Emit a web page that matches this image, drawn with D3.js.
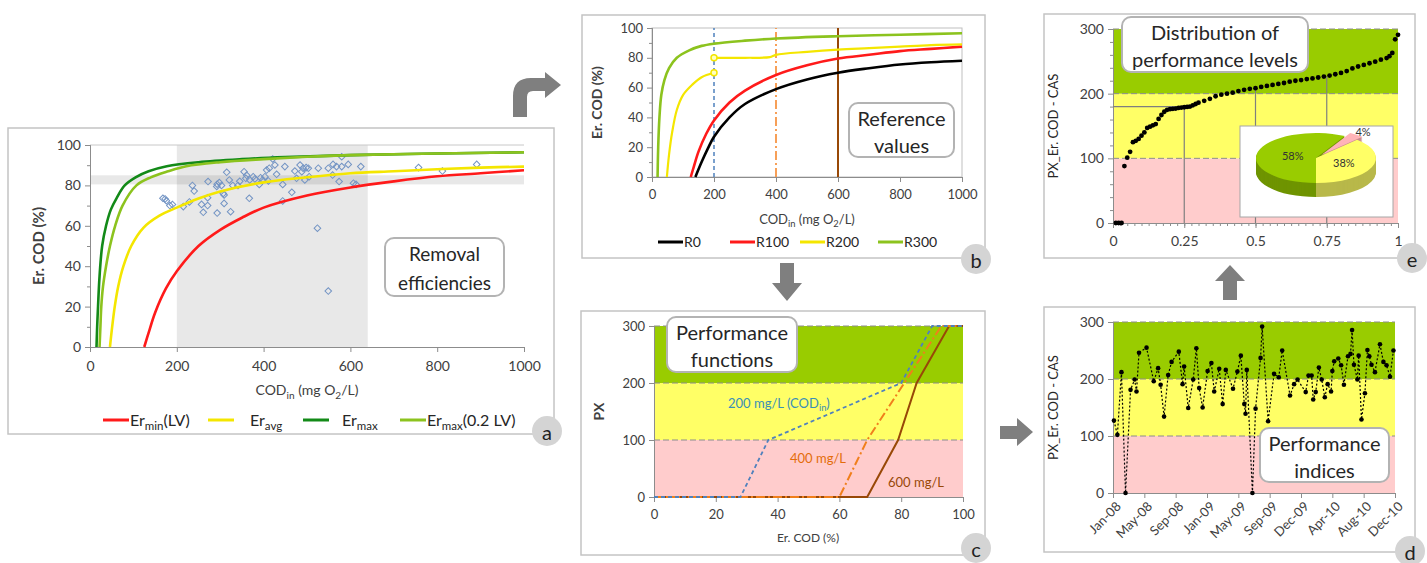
<!DOCTYPE html>
<html>
<head>
<meta charset="utf-8">
<script src="https://cdn.jsdelivr.net/npm/d3@7"></script>
<style>
  body { margin: 0; background: #fff; }
  text { font-family: Lato, "Open Sans", sans-serif; }
</style>
</head>
<body>
<svg id="fig" width="1427" height="563"></svg>
<script>
// ---------- panel a : removal efficiencies ----------
const erMinCod = [125, 135, 150, 175, 200, 250, 300, 350, 400, 500, 600, 700, 800, 900, 1000];
const erMinVal = [0, 7, 17, 29, 37.5, 50, 58, 64, 69, 75, 79, 82, 84.5, 86, 87.5];
const erAvgCod = [46, 50, 57, 65, 77, 95, 123, 160, 200, 250, 300, 400, 500, 600, 700, 800, 900, 1000];
const erAvgVal = [0, 8, 20, 30, 40, 50, 59, 65, 69, 73.5, 77, 81.5, 84, 86, 87, 88, 88.8, 89.3];
const erMaxCod = [15, 16.5, 18.5, 22, 28, 37, 48, 62, 80, 105, 135, 177, 250, 350, 450, 600, 800, 1000];
const erMaxVal = [0, 10, 20, 35, 50, 60, 68, 74, 80, 84, 87, 89.5, 91.5, 93, 94, 95, 95.8, 96.4];
const erMax02Cod = [22, 24, 26, 30, 37, 46, 58, 75, 107, 140, 180, 222, 300, 400, 500, 600, 800, 1000];
const erMax02Val = [0, 10, 20, 30, 40, 50, 60, 70, 80, 84, 87, 89.5, 91.5, 93, 94.2, 95, 95.8, 96.4];
const scatCod = [168,173,176,184,190,215,229,236,240,257,261,271,271,272,292,293,293,298,303,307,
  309,309,315,321,324,329,341,345,355,359,361,367,368,376,380,390,393,398,403,407,
  411,413,421,426,430,444,444,449,465,472,476,484,488,491,495,498,503,505,524,526,
  549,549,559,560,568,574,580,580,595,607,613,624,757,812,891];
const scatEr = [73.6,73.3,72.4,70,70.5,69.5,71.8,80,77.2,70.6,66.7,73.9,70,81.9,79.5,80.6,66.3,81.4,80,76,
  75.3,71.1,86.5,82.7,67,80,80,82,86.8,83.5,85,73.6,82.7,84.3,83.2,80.5,83.8,82.7,84.3,87.6,
  82.2,88.5,93.1,90.1,85.5,80.5,72.3,89.3,76.6,87.1,83.5,90.1,86.8,88.5,82.7,88.8,88.5,84.3,58.8,88.5,
  27.7,88.5,85.1,90.4,89.3,81.9,94.2,89.3,90.4,81.1,80.5,89.3,88.8,87.1,90.4];
const shadeCod = [200, 640];   // grey range of influent COD
const shadeEr = [80.5, 85];    // grey range of efficiency

// ---------- panel b : reference values ----------
const r0Cod = [140, 160, 180, 200, 250, 300, 400, 500, 600, 700, 800, 900, 1000];
const r0Val = [0, 10, 19, 27, 40, 49, 59, 65.5, 70, 73, 75.5, 77, 78];
const r100Cod = [125, 135, 150, 175, 200, 250, 300, 400, 500, 600, 700, 800, 900, 1000];
const r100Val = [0, 7, 17, 29, 38, 50, 58, 68.5, 75, 79.5, 82, 84.5, 86, 87.5];
const r200aCod = [48, 55, 65, 80, 100, 130, 160, 200];
const r200aVal = [0, 15, 30, 45, 55, 62, 67, 70];
const r200bCod = [200, 300, 380, 400, 500, 600, 700, 800, 900, 1000];
const r200bVal = [80, 80, 80.5, 82, 84, 85.5, 86.5, 87.5, 88.5, 89];
const r300Cod = [18, 20, 24, 30, 40, 55, 80, 120, 160, 200, 300, 400, 600, 800, 1000];
const r300Val = [0, 20, 40, 55, 65, 73, 80, 85, 88, 89.5, 91.5, 93, 94.5, 95.5, 96.5];
const refCod = [200, 400, 600];

// ---------- panel c : performance functions ----------
const pf200Er = [0, 28, 37, 80, 90, 100];
const pf200Px = [0, 0, 100, 200, 300, 300];
const pf400Er = [0, 60, 69, 81, 93, 100];
const pf400Px = [0, 0, 100, 200, 300, 300];
const pf600Er = [0, 69, 79, 85, 95.5, 100];
const pf600Px = [0, 0, 100, 200, 300, 300];

// ---------- panel d : performance indices ----------
const dTickLabels = ["Jan-08", "May-08", "Sep-08", "Jan-09", "May-09", "Sep-09", "Dec-09", "Apr-10", "Aug-10", "Dec-10"];
const dT = [0.03,0.14,0.27,0.40,0.56,0.69,0.75,0.83,1.07,1.30,1.44,1.52,1.63,1.76,1.87,2.10,2.22,2.27,2.40,2.56,
  2.66,2.75,2.86,3.02,3.14,3.23,3.39,3.50,3.60,3.83,3.97,4.08,4.19,4.23,4.27,4.45,4.55,4.71,4.76,4.95,
  5.14,5.29,5.40,5.65,5.78,5.89,6.15,6.24,6.34,6.39,6.47,6.57,6.66,6.76,6.85,6.96,7.00,7.06,7.19,7.28,
  7.37,7.50,7.58,7.63,7.69,7.80,7.84,7.93,8.04,8.12,8.18,8.25,8.36,8.52,8.63,8.73,8.84,8.95];
const dPx = [127,102,212,0,181,199,178,246,255,196,219,190,134,207,230,248,191,222,149,199,
  254,184,150,214,228,178,218,156,216,183,213,241,156,139,216,0,148,237,292,126,
  209,203,250,171,191,199,177,206,206,164,177,220,199,168,191,178,214,231,236,224,
  190,240,244,286,225,199,241,129,175,251,240,225,212,261,230,224,204,250];

// ---------- panel e : distribution ----------
const eP = [0.01,0.02,0.03,0.04,0.05,0.06,0.07,0.08,0.09,0.10,0.11,0.12,0.13,0.14,0.15,0.16,0.17,0.18,0.19,0.20,
  0.21,0.22,0.23,0.24,0.25,0.26,0.27,0.28,0.29,0.30,0.32,0.34,0.36,0.38,0.40,0.42,0.44,0.46,0.48,0.50,
  0.52,0.54,0.56,0.58,0.60,0.62,0.64,0.66,0.68,0.70,0.72,0.74,0.76,0.78,0.80,0.82,0.84,0.86,0.88,0.90,
  0.92,0.94,0.96,0.97,0.98,0.99,1.0];
const eV = [0,0,0,88,101,110,125,127,130,135,140,147,149,151,153,161,167,172,175,176,
  176.5,177,178,178.5,179,179.5,180,182,184,186,189,192,196,198.5,200,201.5,204,206,207.5,208.5,
  210.5,212,213.5,215,216.5,218.5,220,221,222.5,223.5,225,226.5,228,230,232,235,239,242,244.5,247,
  249.5,252.5,255,258,263,284,291];
const quartP = [0.25, 0.5, 0.75];
const quartV = [180, 207, 227];
const pieLabels = ["58%", "4%", "38%"];
const pieVals = [58, 4, 38];

// ---------- shared styling ----------
const TXT = "#404040", AX = "#8c8c8c";
const GREEN = "#99cc00", YELLOW = "#ffff66", PINK = "#ffcccc";
const svg = d3.select("#fig");
const intFmt = d3.format("d");

function styleAxis(g, size) {
  g.select(".domain").attr("stroke", AX);
  g.selectAll(".tick line").attr("stroke", AX);
  g.selectAll(".tick text").attr("fill", TXT).style("font-size", size + "px");
}

function frame(x0, y0, x1, y1) {
  svg.append("rect").attr("x", x0).attr("y", y0).attr("width", x1 - x0).attr("height", y1 - y0)
    .attr("fill", "none").attr("stroke", "#c4c4c4").attr("stroke-width", 1.5);
}

function letter(cx, cy, s) {
  svg.append("circle").attr("cx", cx).attr("cy", cy).attr("r", 15).attr("fill", "#d4d4d4");
  svg.append("text").attr("x", cx).attr("y", cy + 1).attr("text-anchor", "middle")
    .attr("dominant-baseline", "central").style("font-size", "20px").attr("fill", "#222").text(s);
}

function note(x0, y0, x1, y1, lines, size) {
  svg.append("rect").attr("x", x0).attr("y", y0).attr("width", x1 - x0).attr("height", y1 - y0)
    .attr("rx", 9).attr("fill", "#fff").attr("stroke", "#b3b3b3").attr("stroke-width", 2);
  const h = (y1 - y0) / lines.length;
  lines.forEach((t, i) => {
    svg.append("text").attr("x", (x0 + x1) / 2).attr("y", y0 + h * (i + 0.5) + 1)
      .attr("text-anchor", "middle").attr("dominant-baseline", "central")
      .style("font-size", size + "px").attr("fill", "#262626").text(t);
  });
}

// text with subscripts: parts = [[text, isSub], ...]
function subText(x, y, parts, size, anchor, color) {
  const t = svg.append("text").attr("x", x).attr("y", y).attr("text-anchor", anchor || "start")
    .style("font-size", size + "px").attr("fill", color || TXT);
  let down = false;
  parts.forEach(([s, sub]) => {
    const sp = t.append("tspan").text(s);
    if (sub && !down) { sp.attr("dy", size * 0.25).style("font-size", (size * 0.72) + "px"); down = true; }
    else if (sub) { sp.style("font-size", (size * 0.72) + "px"); }
    else if (down) { sp.attr("dy", -size * 0.25); down = false; }
  });
  return t;
}
const codInParts = [["COD"], ["in", 1], [" (mg O"], ["2", 1], ["/L)"]];

function bands(x, y, x0, x1) {
  [[0, 100, PINK], [100, 200, YELLOW], [200, 300, GREEN]].forEach(([a, b, c]) => {
    svg.append("rect").attr("x", x(x0)).attr("y", y(b)).attr("width", x(x1) - x(x0))
      .attr("height", y(a) - y(b)).attr("fill", c);
  });
  [100, 200, 300].forEach(v => {
    svg.append("line").attr("x1", x(x0)).attr("x2", x(x1)).attr("y1", y(v)).attr("y2", y(v))
      .attr("stroke", "#8c8c8c").attr("stroke-dasharray", "6,3");
  });
}

function curve(x, y, xs, ys, color, w, dash) {
  const line = d3.line().x(i => x(xs[i])).y(i => y(ys[i])).curve(d3.curveCatmullRom.alpha(0.5));
  const p = svg.append("path").attr("d", line(d3.range(xs.length))).attr("fill", "none")
    .attr("stroke", color).attr("stroke-width", w).attr("stroke-linejoin", "round");
  if (dash) p.attr("stroke-dasharray", dash);
  return p;
}
function poly(x, y, xs, ys, color, w, dash) {
  const line = d3.line().x(i => x(xs[i])).y(i => y(ys[i]));
  const p = svg.append("path").attr("d", line(d3.range(xs.length))).attr("fill", "none")
    .attr("stroke", color).attr("stroke-width", w);
  if (dash) p.attr("stroke-dasharray", dash);
  return p;
}

// ================= panel a =================
frame(8, 128, 554, 434);
const xA = d3.scaleLinear().domain([0, 1000]).range([90, 524]);
const yA = d3.scaleLinear().domain([0, 100]).range([347, 145]);

svg.append("rect").attr("x", xA(shadeCod[0])).attr("y", yA(100)).attr("width", xA(shadeCod[1]) - xA(shadeCod[0]))
  .attr("height", yA(0) - yA(100)).attr("fill", "#000").attr("opacity", 0.09);
svg.append("rect").attr("x", xA(0)).attr("y", yA(shadeEr[1])).attr("width", xA(1000) - xA(0))
  .attr("height", yA(shadeEr[0]) - yA(shadeEr[1])).attr("fill", "#000").attr("opacity", 0.09);
svg.append("line").attr("x1", xA(0)).attr("x2", xA(1000)).attr("y1", yA(100)).attr("y2", yA(100))
  .attr("stroke", "#c8c8c8");

svg.append("g").attr("transform", `translate(${xA(0)},0)`)
  .call(d3.axisLeft(yA).tickValues(d3.range(10, 100, 20)).tickSize(3).tickFormat(""))
  .call(g => styleAxis(g, 14));
svg.append("g").attr("transform", `translate(${xA(0)},0)`)
  .call(d3.axisLeft(yA).tickValues(d3.range(0, 101, 20)).tickSize(5).tickPadding(4))
  .call(g => styleAxis(g, 14));
svg.append("g").attr("transform", `translate(0,${yA(0)})`)
  .call(d3.axisBottom(xA).tickValues(d3.range(0, 1001, 200)).tickSize(5).tickPadding(9).tickFormat(intFmt))
  .call(g => styleAxis(g, 14));

svg.append("g").selectAll("path").data(d3.range(scatCod.length)).join("path")
  .attr("d", d3.symbol(d3.symbolSquare, 22)())
  .attr("transform", i => `translate(${xA(scatCod[i])},${yA(scatEr[i])}) rotate(45)`)
  .attr("fill", "none").attr("stroke", "#7394c4").attr("stroke-width", 1);

curve(xA, yA, erMinCod, erMinVal, "#ff1a1a", 2.6);
curve(xA, yA, erAvgCod, erAvgVal, "#f4e600", 2.6);
curve(xA, yA, erMaxCod, erMaxVal, "#138a18", 2.6);
curve(xA, yA, erMax02Cod, erMax02Val, "#8cc31e", 2.6);

svg.append("text").attr("transform", `translate(44,${(yA(0) + yA(100)) / 2}) rotate(-90)`)
  .attr("text-anchor", "middle").style("font-size", "15px").style("font-weight", "bold")
  .attr("fill", TXT).text("Er. COD (%)");
subText(307, 395, codInParts, 14, "middle");

// legend a
[
  [103, 130, "#ff1a1a", [["Er"], ["min", 1], ["(LV)"]]],
  [208, 250, "#f4e600", [["Er"], ["avg", 1]]],
  [303, 342, "#138a18", [["Er"], ["max", 1]]],
  [400, 427, "#8cc31e", [["Er"], ["max", 1], ["(0.2 LV)"]]]
].forEach(([lx, tx, c, parts]) => {
  svg.append("line").attr("x1", lx).attr("x2", lx + 26).attr("y1", 420).attr("y2", 420)
    .attr("stroke", c).attr("stroke-width", 3);
  subText(tx, 426, parts, 16, "start", "#262626");
});
note(385, 238, 504, 296, ["Removal", "efficiencies"], 19);
letter(547, 431, "a");

// ================= panel b =================
frame(582, 15, 985, 258);
const xB = d3.scaleLinear().domain([0, 1000]).range([652, 962]);
const yB = d3.scaleLinear().domain([0, 100]).range([177, 28]);
svg.append("rect").attr("x", xB(0)).attr("y", yB(100)).attr("width", xB(1000) - xB(0))
  .attr("height", yB(0) - yB(100)).attr("fill", "none").attr("stroke", "#bfbfbf");
svg.append("g").attr("transform", `translate(${xB(0)},0)`)
  .call(d3.axisLeft(yB).tickValues(d3.range(10, 100, 20)).tickSize(3).tickFormat(""))
  .call(g => styleAxis(g, 13));
svg.append("g").attr("transform", `translate(${xB(0)},0)`)
  .call(d3.axisLeft(yB).tickValues(d3.range(0, 101, 20)).tickSize(5).tickPadding(4))
  .call(g => styleAxis(g, 13));
svg.append("g").attr("transform", `translate(0,${yB(0)})`)
  .call(d3.axisBottom(xB).tickValues(d3.range(0, 1001, 200)).tickSize(5).tickPadding(8).tickFormat(intFmt))
  .call(g => styleAxis(g, 13));

const refStyle = [["#4f81bd", 1.5, "4,3"], ["#f79646", 1.8, "9,3,2,3"], ["#984807", 2, null]];
refCod.forEach((c, i) => {
  const l = svg.append("line").attr("x1", xB(c)).attr("x2", xB(c)).attr("y1", yB(0)).attr("y2", yB(100))
    .attr("stroke", refStyle[i][0]).attr("stroke-width", refStyle[i][1]);
  if (refStyle[i][2]) l.attr("stroke-dasharray", refStyle[i][2]);
});
curve(xB, yB, r0Cod, r0Val, "#000", 2.6);
curve(xB, yB, r100Cod, r100Val, "#ff1a1a", 2.6);
curve(xB, yB, r200aCod, r200aVal, "#f4e600", 2.2);
curve(xB, yB, r200bCod, r200bVal, "#f4e600", 2.2);
curve(xB, yB, r300Cod, r300Val, "#8cc31e", 2.6);
[[r200aCod, r200aVal, r200aCod.length - 1], [r200bCod, r200bVal, 0]].forEach(([xs, ys, i]) => {
  svg.append("circle").attr("cx", xB(xs[i])).attr("cy", yB(ys[i])).attr("r", 3)
    .attr("fill", "#ffffc0").attr("stroke", "#f4e600").attr("stroke-width", 1.5);
});
svg.append("text").attr("transform", `translate(602,${(yB(0) + yB(100)) / 2}) rotate(-90)`)
  .attr("text-anchor", "middle").style("font-size", "14px").style("font-weight", "bold")
  .attr("fill", TXT).text("Er. COD (%)");
subText(807, 224, codInParts, 13, "middle");
[[658, "#000", "R0"], [730, "#ff1a1a", "R100"], [800, "#f4e600", "R200"], [878, "#8cc31e", "R300"]]
  .forEach(([lx, c, t]) => {
    svg.append("line").attr("x1", lx).attr("x2", lx + 25).attr("y1", 242).attr("y2", 242)
      .attr("stroke", c).attr("stroke-width", 3);
    svg.append("text").attr("x", lx + 26).attr("y", 247).style("font-size", "14px")
      .attr("fill", "#262626").text(t);
  });
note(849, 103, 954, 157, ["Reference", "values"], 20);
letter(976, 259, "b");

// ================= panel c =================
frame(581, 311, 985, 555);
const xC = d3.scaleLinear().domain([0, 100]).range([654, 963]);
const yC = d3.scaleLinear().domain([0, 300]).range([497, 326]);
bands(xC, yC, 0, 100);
svg.append("g").attr("transform", `translate(${xC(0)},0)`)
  .call(d3.axisLeft(yC).tickValues([0, 100, 200, 300]).tickSize(5).tickPadding(4))
  .call(g => styleAxis(g, 13));
svg.append("g").attr("transform", `translate(0,${yC(0)})`)
  .call(d3.axisBottom(xC).tickValues(d3.range(0, 101, 20)).tickSize(5).tickPadding(8))
  .call(g => styleAxis(g, 13));
poly(xC, yC, pf600Er, pf600Px, "#984807", 2);
poly(xC, yC, pf400Er, pf400Px, "#f07f1c", 2, "9,3,2,3");
poly(xC, yC, pf200Er, pf200Px, "#4f81bd", 1.8, "4,3");
subText(728, 408, [["200 mg/L (COD"], ["in", 1], [")"]], 13, "start", "#3a8fb7");
svg.append("text").attr("x", 790).attr("y", 463).style("font-size", "13px").attr("fill", "#e46c0a").text("400 mg/L");
svg.append("text").attr("x", 888).attr("y", 487).style("font-size", "13px").attr("fill", "#984807").text("600 mg/L");
svg.append("text").attr("transform", `translate(604,${(yC(0) + yC(300)) / 2}) rotate(-90)`)
  .attr("text-anchor", "middle").style("font-size", "14px").style("font-weight", "bold")
  .attr("fill", TXT).text("PX");
svg.append("text").attr("x", 808).attr("y", 542).attr("text-anchor", "middle")
  .style("font-size", "12px").attr("fill", TXT).text("Er. COD (%)");
note(667, 317, 797, 372, ["Performance", "functions"], 20);
letter(976, 548, "c");

// ================= panel d =================
frame(1044, 307, 1415, 552);
const xD = d3.scaleLinear().domain([0, 9]).range([1113, 1395]);
const yD = d3.scaleLinear().domain([0, 300]).range([493, 322]);
bands(xD, yD, 0, 9);
svg.append("g").attr("transform", `translate(${xD(0)},0)`)
  .call(d3.axisLeft(yD).tickValues([0, 100, 200, 300]).tickSize(5).tickPadding(4))
  .call(g => styleAxis(g, 14));
svg.append("g").attr("transform", `translate(0,${yD(0)})`)
  .call(d3.axisBottom(xD).tickValues(d3.range(10)).tickSize(5).tickFormat(i => dTickLabels[i]))
  .call(g => styleAxis(g, 13))
  .call(g => g.selectAll(".tick text").attr("x", 0).attr("y", 0).attr("dy", "0.35em")
    .attr("text-anchor", "end").attr("transform", "translate(5,11) rotate(-45)"));
poly(xD, yD, dT, dPx, "#000", 1.2, "2,2");
svg.append("g").selectAll("circle").data(d3.range(dT.length)).join("circle")
  .attr("cx", i => xD(dT[i])).attr("cy", i => yD(dPx[i])).attr("r", 2.3).attr("fill", "#000");
svg.append("text").attr("transform", `translate(1058,${(yD(0) + yD(300)) / 2}) rotate(-90)`)
  .attr("text-anchor", "middle").style("font-size", "13px").attr("fill", "#262626").text("PX_Er. COD - CAS");
note(1260, 428, 1389, 482, ["Performance", "indices"], 20);
letter(1410, 551, "d");

// ================= panel e =================
frame(1044, 14, 1415, 258);
const xE = d3.scaleLinear().domain([0, 1]).range([1113, 1398]);
const yE = d3.scaleLinear().domain([0, 300]).range([223, 29]);
bands(xE, yE, 0, 1);
svg.append("g").attr("transform", `translate(${xE(0)},0)`)
  .call(d3.axisLeft(yE).tickValues(d3.range(20, 300, 20).filter(v => v % 100)).tickSize(3).tickFormat(""))
  .call(g => styleAxis(g, 14));
svg.append("g").attr("transform", `translate(${xE(0)},0)`)
  .call(d3.axisLeft(yE).tickValues([0, 100, 200, 300]).tickSize(5).tickPadding(4))
  .call(g => styleAxis(g, 14));
svg.append("g").attr("transform", `translate(0,${yE(0)})`)
  .call(d3.axisBottom(xE).tickValues(d3.range(1, 40).map(i => i * 0.025)).tickSize(3).tickFormat(""))
  .call(g => styleAxis(g, 14));
svg.append("g").attr("transform", `translate(0,${yE(0)})`)
  .call(d3.axisBottom(xE).tickValues([0, 0.25, 0.5, 0.75, 1]).tickSize(5).tickPadding(8).tickFormat(d3.format("")))
  .call(g => styleAxis(g, 14));
quartP.forEach((p, i) => {
  svg.append("line").attr("x1", xE(p)).attr("x2", xE(p)).attr("y1", yE(0)).attr("y2", yE(quartV[i]))
    .attr("stroke", "#7f7f7f").attr("stroke-width", 1.2);
});
svg.append("line").attr("x1", xE(0)).attr("x2", xE(quartP[0])).attr("y1", yE(quartV[0])).attr("y2", yE(quartV[0]))
  .attr("stroke", "#7f7f7f").attr("stroke-width", 1.2);
svg.append("g").selectAll("circle").data(d3.range(eP.length)).join("circle")
  .attr("cx", i => xE(eP[i])).attr("cy", i => yE(eV[i])).attr("r", 2.4).attr("fill", "#000");

// pie inset
svg.append("rect").attr("x", 1240).attr("y", 126).attr("width", 153).attr("height", 91)
  .attr("fill", "#fff").attr("stroke", "#a6a6a6");
const pieCx = 1316, pieCy = 158, pieR = 60, pieSq = 25 / 60, pieDepth = 14;
const pieTop = [GREEN, "#ffb3b8", "#ffff66"];
const pieSide = ["#6f9400", "#c98b8f", "#b8b84a"];
const arcs = d3.pie().sort(null).startAngle(Math.PI).endAngle(3 * Math.PI)(pieVals);
const arcGen = d3.arc().innerRadius(0).outerRadius(pieR);
const explode = i => {
  if (i !== 1) return [0, 0];
  const a = (arcs[i].startAngle + arcs[i].endAngle) / 2;
  return [Math.sin(a) * 9, -Math.cos(a) * 9];
};
for (let k = pieDepth; k >= 0; k--) {
  arcs.forEach((a, i) => {
    const [ox, oy] = explode(i);
    svg.append("path").attr("d", arcGen(a))
      .attr("transform", `translate(${pieCx},${pieCy + k}) scale(1,${pieSq}) translate(${ox},${oy})`)
      .attr("fill", k === 0 ? pieTop[i] : pieSide[i]);
  });
}
const labR = [24, 80, 30];
arcs.forEach((a, i) => {
  const m = (a.startAngle + a.endAngle) / 2;
  svg.append("text").attr("x", pieCx + Math.sin(m) * labR[i]).attr("y", pieCy - Math.cos(m) * labR[i] * pieSq)
    .attr("text-anchor", "middle").attr("dominant-baseline", "central")
    .style("font-size", "11px").attr("fill", "#333").text(pieLabels[i]);
});

svg.append("text").attr("transform", `translate(1058,${(yE(0) + yE(300)) / 2}) rotate(-90)`)
  .attr("text-anchor", "middle").style("font-size", "13px").attr("fill", "#262626").text("PX_Er. COD - CAS");
note(1122, 17, 1308, 72, ["Distribution of", "performance levels"], 20);
letter(1412, 258, "e");

// ================= arrows =================
const arrowFill = "#7f7f7f";
svg.append("path").attr("fill", arrowFill)
  .attr("d", "M513,117 L513,96 Q513,78 531,78 L545,78 L545,72 L561,85 L545,98 L545,91 L533,91 Q527,91 527,97 L527,117 Z");
svg.append("path").attr("fill", arrowFill).attr("d", "M780,263 L794,263 L794,283 L802,283 L787,301 L772,283 L780,283 Z");
svg.append("path").attr("fill", arrowFill).attr("d", "M1000,426 L1017,426 L1017,418 L1033,432 L1017,446 L1017,439 L1000,439 Z");
svg.append("path").attr("fill", arrowFill).attr("d", "M1223,300 L1237,300 L1237,281 L1245,281 L1230,265 L1215,281 L1223,281 Z");
</script>
</body>
</html>
